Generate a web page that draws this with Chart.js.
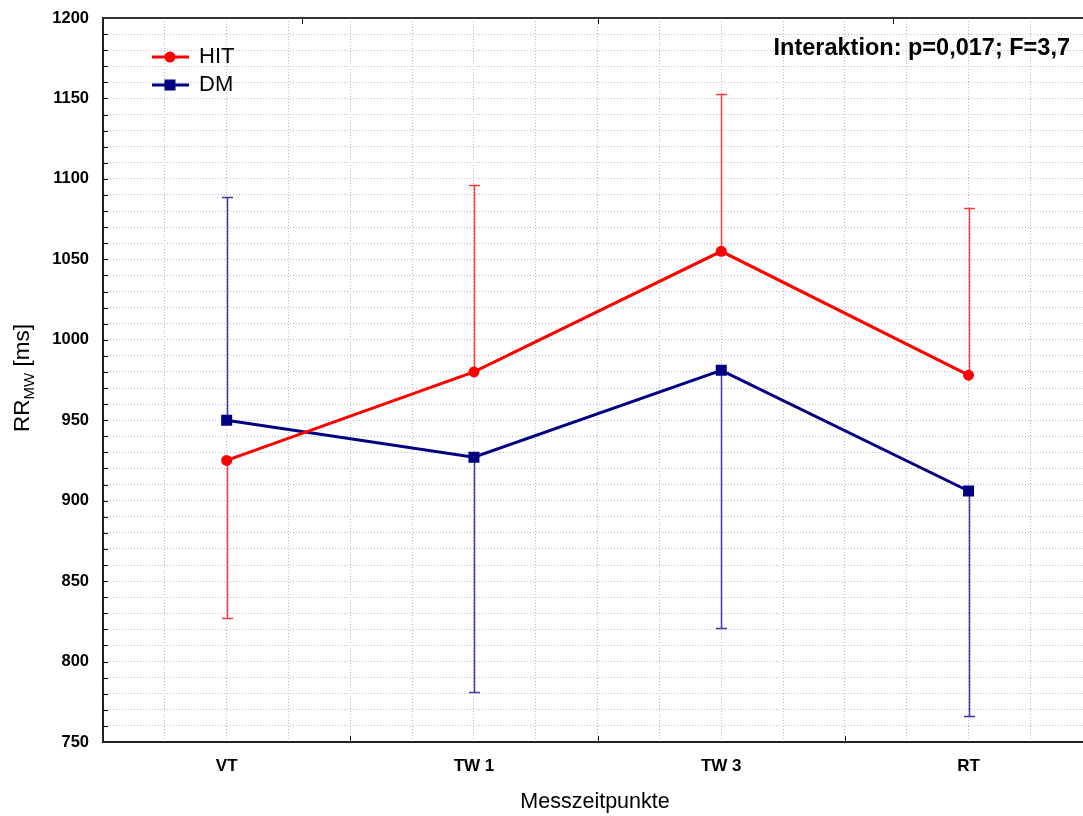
<!DOCTYPE html>
<html>
<head>
<meta charset="utf-8">
<script src="https://cdn.jsdelivr.net/npm/chart.js@4/dist/chart.umd.min.js"></script>
<style>
  html, body { margin: 0; padding: 0; background: #fff; overflow: hidden; }
  #wrap { position: absolute; left: 0; top: 0; width: 1100px; height: 816px; }
</style>
</head>
<body>
<div id="wrap"><canvas id="chart"></canvas></div>
<script>
const categories = ["VT", "TW 1", "TW 3", "RT"];
const hitMeans = [925, 980, 1055, 978];
const hitErrEnds = [827, 1096, 1153, 1082];
const dmMeans = [950, 927, 981, 906];
const dmErrEnds = [1089, 781, 821, 766];
const yTickLabels = [750, 800, 850, 900, 950, 1000, 1050, 1100, 1150, 1200];
const topTickValues = [0.304, 1.5, 2.696];
const bottomTickValues = [0.5, 1.5, 2.5];

const HIT_COLOR = "#ff0000";
const HIT_ERR = "#ff3b3b";
const DM_COLOR = "#000080";
const DM_ERR = "#3a3aa6";
const FONT = "Liberation Sans, Arial, sans-serif";

function toPoints(values) {
  return values.map((v, i) => ({ x: i, y: v }));
}

const decorPlugin = {
  id: "decor",
  beforeDatasetsDraw(chart) {
    const ctx = chart.ctx;
    const xs = chart.scales.x;
    const ys = chart.scales.y;

    function bars(means, ends, color) {
      ctx.save();
      ctx.strokeStyle = color;
      ctx.lineWidth = 1.5;
      means.forEach((m, i) => {
        const px = Math.round(xs.getPixelForValue(i)) + 0.5;
        const y0 = ys.getPixelForValue(m);
        const y1 = Math.round(ys.getPixelForValue(ends[i])) + 0.5;
        ctx.beginPath();
        ctx.moveTo(px, y0);
        ctx.lineTo(px, y1);
        ctx.moveTo(px - 5.5, y1);
        ctx.lineTo(px + 5.5, y1);
        ctx.stroke();
      });
      ctx.restore();
    }

    bars(hitMeans, hitErrEnds, HIT_ERR);
    bars(dmMeans, dmErrEnds, DM_ERR);
  },
  afterDraw(chart) {
    const ctx = chart.ctx;
    const area = chart.chartArea;
    const xs = chart.scales.x;
    const ys = chart.scales.y;

    ctx.save();
    // top border
    ctx.strokeStyle = "#333";
    ctx.lineWidth = 2;
    ctx.beginPath();
    ctx.moveTo(area.left, area.top);
    ctx.lineTo(area.right, area.top);
    ctx.stroke();

    // inward ticks
    ctx.strokeStyle = "#111";
    ctx.lineWidth = 1;
    ctx.beginPath();
    for (let v = 760; v < 1200; v += 10) {
      const py = Math.round(ys.getPixelForValue(v)) + 0.5;
      ctx.moveTo(area.left, py);
      ctx.lineTo(area.left + 5, py);
    }
    bottomTickValues.forEach(v => {
      const px = Math.round(xs.getPixelForValue(v)) + 0.5;
      ctx.moveTo(px, area.bottom);
      ctx.lineTo(px, area.bottom - 6);
    });
    topTickValues.forEach(v => {
      const px = Math.round(xs.getPixelForValue(v)) + 0.5;
      ctx.moveTo(px, area.top);
      ctx.lineTo(px, area.top + 6);
    });
    ctx.stroke();

    // legend
    const legendItems = [
      { label: "HIT", color: HIT_COLOR, style: "circle", y: 57 },
      { label: "DM", color: DM_COLOR, style: "rect", y: 85 }
    ];
    legendItems.forEach(item => {
      ctx.strokeStyle = item.color;
      ctx.fillStyle = item.color;
      ctx.lineWidth = 3;
      ctx.beginPath();
      ctx.moveTo(152, item.y);
      ctx.lineTo(189, item.y);
      ctx.stroke();
      if (item.style === "circle") {
        ctx.beginPath();
        ctx.arc(170, item.y, 5.5, 0, Math.PI * 2);
        ctx.fill();
      } else {
        ctx.fillRect(164.5, item.y - 5.5, 11, 11);
      }
      ctx.fillStyle = "#000";
      ctx.font = "22px " + FONT;
      ctx.textAlign = "left";
      ctx.textBaseline = "middle";
      ctx.fillText(item.label, 199, item.y);
    });

    // annotation
    ctx.fillStyle = "#000";
    ctx.font = "bold 23.5px " + FONT;
    ctx.textAlign = "right";
    ctx.textBaseline = "middle";
    ctx.fillText("Interaktion: p=0,017; F=3,7", 1070, 49);

    // x title
    ctx.font = "21.5px " + FONT;
    ctx.textAlign = "center";
    ctx.textBaseline = "alphabetic";
    ctx.fillText("Messzeitpunkte", 595, 808);

    // y title with subscript
    ctx.translate(29, 378);
    ctx.rotate(-Math.PI / 2);
    const mainFont = "22.5px " + FONT;
    const subFont = "15px " + FONT;
    ctx.font = mainFont;
    const wRR = ctx.measureText("RR").width;
    const wMs = ctx.measureText(" [ms]").width;
    ctx.font = subFont;
    const wMW = ctx.measureText("MW").width;
    let x = -(wRR + wMW + wMs) / 2;
    ctx.textAlign = "left";
    ctx.font = mainFont;
    ctx.fillText("RR", x, 0);
    x += wRR;
    ctx.font = subFont;
    ctx.fillText("MW", x, 5);
    x += wMW;
    ctx.font = mainFont;
    ctx.fillText(" [ms]", x, 0);
    ctx.restore();
  }
};

new Chart(document.getElementById("chart"), {
  type: "line",
  data: {
    datasets: [
      {
        label: "HIT",
        data: toPoints(hitMeans),
        borderColor: HIT_COLOR,
        backgroundColor: HIT_COLOR,
        borderWidth: 3,
        pointStyle: "circle",
        pointRadius: 5.5,
        pointBorderWidth: 0,
        pointHoverRadius: 5.5,
        tension: 0
      },
      {
        label: "DM",
        data: toPoints(dmMeans),
        borderColor: DM_COLOR,
        backgroundColor: DM_COLOR,
        borderWidth: 3,
        pointStyle: "rect",
        pointRadius: 7.8,
        pointBorderWidth: 0,
        pointHoverRadius: 7.8,
        tension: 0
      }
    ]
  },
  options: {
    responsive: true,
    maintainAspectRatio: false,
    animation: false,
    layout: { padding: { top: 18, right: 5, bottom: 0, left: 0 } },
    plugins: {
      legend: { display: false },
      tooltip: { enabled: false }
    },
    scales: {
      x: {
        type: "linear",
        min: -0.5,
        max: 3.5,
        afterBuildTicks: scale => {
          const ticks = [];
          for (let v = -0.5; v <= 3.5 + 1e-9; v += 0.25) ticks.push({ value: v });
          scale.ticks = ticks;
        },
        afterFit: scale => {
          scale.height = 74;
          scale.paddingLeft = 0;
          scale.paddingRight = 0;
        },
        grid: {
          color: "#bcbcbc",
          lineWidth: 1,
          drawTicks: false
        },
        border: { display: true, color: "#222", width: 2, dash: [1, 2] },
        ticks: {
          autoSkip: false,
          maxRotation: 0,
          padding: 14,
          color: "#000",
          font: { family: FONT, size: 17, weight: "bold" },
          callback: value => Number.isInteger(value) ? categories[value] : ""
        }
      },
      y: {
        min: 750,
        max: 1200,
        afterBuildTicks: scale => {
          const ticks = [];
          for (let v = 750; v <= 1200; v += 10) ticks.push({ value: v });
          scale.ticks = ticks;
        },
        afterFit: scale => {
          scale.width = 103;
          scale.paddingTop = 0;
          scale.paddingBottom = 0;
        },
        grid: {
          color: "#bcbcbc",
          lineWidth: 1,
          drawTicks: false
        },
        border: { display: true, color: "#222", width: 2, dash: [1, 2] },
        ticks: {
          autoSkip: false,
          padding: 14,
          color: "#000",
          font: { family: FONT, size: 16.5, weight: "bold" },
          callback: value => yTickLabels.includes(value) ? String(value) : ""
        }
      }
    }
  },
  plugins: [decorPlugin]
});
</script>
</body>
</html>
